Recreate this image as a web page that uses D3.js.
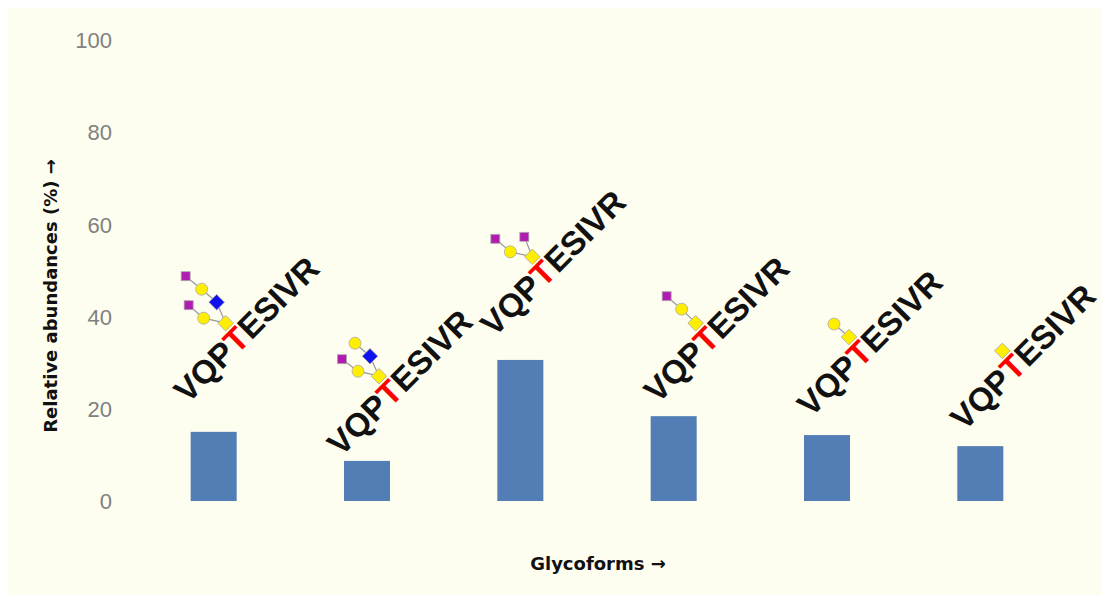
<!DOCTYPE html>
<html><head><meta charset="utf-8">
<script src="https://cdn.jsdelivr.net/npm/d3@7"></script>
<style>body{margin:0;background:#fff}</style>
</head><body>
<svg id="c" width="1109" height="600"></svg>
<script>
// data
var glycoforms = ["g1", "g2", "g3", "g4", "g5", "g6"];
var abundances = [15.0, 8.7, 30.6, 18.4, 14.3, 11.9];
var labelLevels = [21.0, 9.5, 35.4, 21.0, 18.0, 15.0];
var yTicks = [0, 20, 40, 60, 80, 100];
var peptide = ["VQP", "T", "ESIVR"];
// glycan residues: [type, dx, dy] relative to root GalNAc, edges by index
var glycans = [
	{nodes: [["gal", 0, 0], ["galc", -22, -5], ["sia", -37, -18], ["glcnac", -9, -21], ["galc", -24, -34], ["sia", -40, -47]], edges: [[0,1],[1,2],[0,3],[3,4],[4,5]]},
	{nodes: [["gal", 0, 0], ["galc", -21, -5], ["sia", -37, -17], ["glcnac", -9, -20], ["galc", -24, -33]], edges: [[0,1],[1,2],[0,3],[3,4]]},
	{nodes: [["gal", 0, 0], ["galc", -22, -5], ["sia", -37, -18], ["sia", -8, -20]], edges: [[0,1],[1,2],[0,3]]},
	{nodes: [["gal", 0, 0], ["galc", -14, -14], ["sia", -29, -27]], edges: [[0,1],[1,2]]},
	{nodes: [["gal", 0, 0], ["galc", -15, -13]], edges: [[0,1]]},
	{nodes: [["gal", 0, 0]], edges: []}
];

var svg = d3.select("#c");
svg.append("rect").attr("x", 8).attr("y", 8).attr("width", 1093).attr("height", 587).attr("fill", "#fefef0");

var x = d3.scaleBand().domain(glycoforms).range([137, 1057]).paddingInner(0.7).paddingOuter(0.35);
var y = d3.scaleLinear().domain([0, 100]).range([501, 40]);

var ax = svg.append("g").attr("transform", "translate(112,0)").call(d3.axisLeft(y).tickValues(yTicks).tickSize(0).tickPadding(0));
ax.select(".domain").remove();
ax.selectAll("text").attr("font-family", "Arial, 'Liberation Sans', sans-serif").attr("font-size", 22).attr("fill", "#808080").attr("dy", "0.35em");

svg.selectAll(".bar").data(abundances).enter().append("rect")
	.attr("x", function(d, i) { return x(glycoforms[i]); })
	.attr("width", x.bandwidth())
	.attr("y", function(d) { return y(d); })
	.attr("height", function(d) { return y(0) - y(d); })
	.attr("fill", "#527db5");

var fill = {gal: "#ffee00", galc: "#ffee00", sia: "#b01cb0", glcnac: "#1111ee"};
glycoforms.forEach(function(g, i) {
	var lx = x(g) + x.bandwidth() / 2 - (i < 3 ? 26 : 16), ly = y(labelLevels[i]);
	var t = svg.append("text").attr("transform", "translate(" + lx + "," + ly + ") rotate(-45)")
		.attr("font-family", "Arial, 'Liberation Sans', sans-serif").attr("font-weight", "bold").attr("font-size", 33);
	peptide.forEach(function(p, k) {
		t.append("tspan").text(p).attr("fill", k == 1 ? "#ff0000" : "#111");
	});
	var rx = lx + 38, ry = ly - 81;
	var gl = glycans[i];
	var gg = svg.append("g").attr("transform", "translate(" + rx + "," + ry + ")");
	gl.edges.forEach(function(e) {
		var a = gl.nodes[e[0]], b = gl.nodes[e[1]];
		gg.append("line").attr("x1", a[1]).attr("y1", a[2]).attr("x2", b[1]).attr("y2", b[2]).attr("stroke", "#999").attr("stroke-width", 1.2);
	});
	gl.nodes.forEach(function(n) {
		var s;
		if (n[0] == "galc") {
			s = gg.append("circle").attr("cx", n[1]).attr("cy", n[2]).attr("r", 6);
		} else if (n[0] == "sia") {
			s = gg.append("rect").attr("x", n[1] - 4.5).attr("y", n[2] - 4.5).attr("width", 9).attr("height", 9);
		} else {
			s = gg.append("rect").attr("x", -5.5).attr("y", -5.5).attr("width", 11).attr("height", 11)
				.attr("transform", "translate(" + n[1] + "," + n[2] + ") rotate(45)");
		}
		s.attr("fill", fill[n[0]]).attr("stroke", "#aaa").attr("stroke-width", 0.8);
	});
});

svg.append("text").attr("transform", "translate(57,296) rotate(-90)").attr("text-anchor", "middle")
	.attr("font-family", "'DejaVu Sans', sans-serif").attr("font-weight", "bold").attr("font-size", 18).attr("fill", "#111")
	.text("Relative abundances (%) →");
svg.append("text").attr("x", 598).attr("y", 570).attr("text-anchor", "middle")
	.attr("font-family", "'DejaVu Sans', sans-serif").attr("font-weight", "bold").attr("font-size", 18).attr("fill", "#111")
	.text("Glycoforms →");
</script>
</body></html>
